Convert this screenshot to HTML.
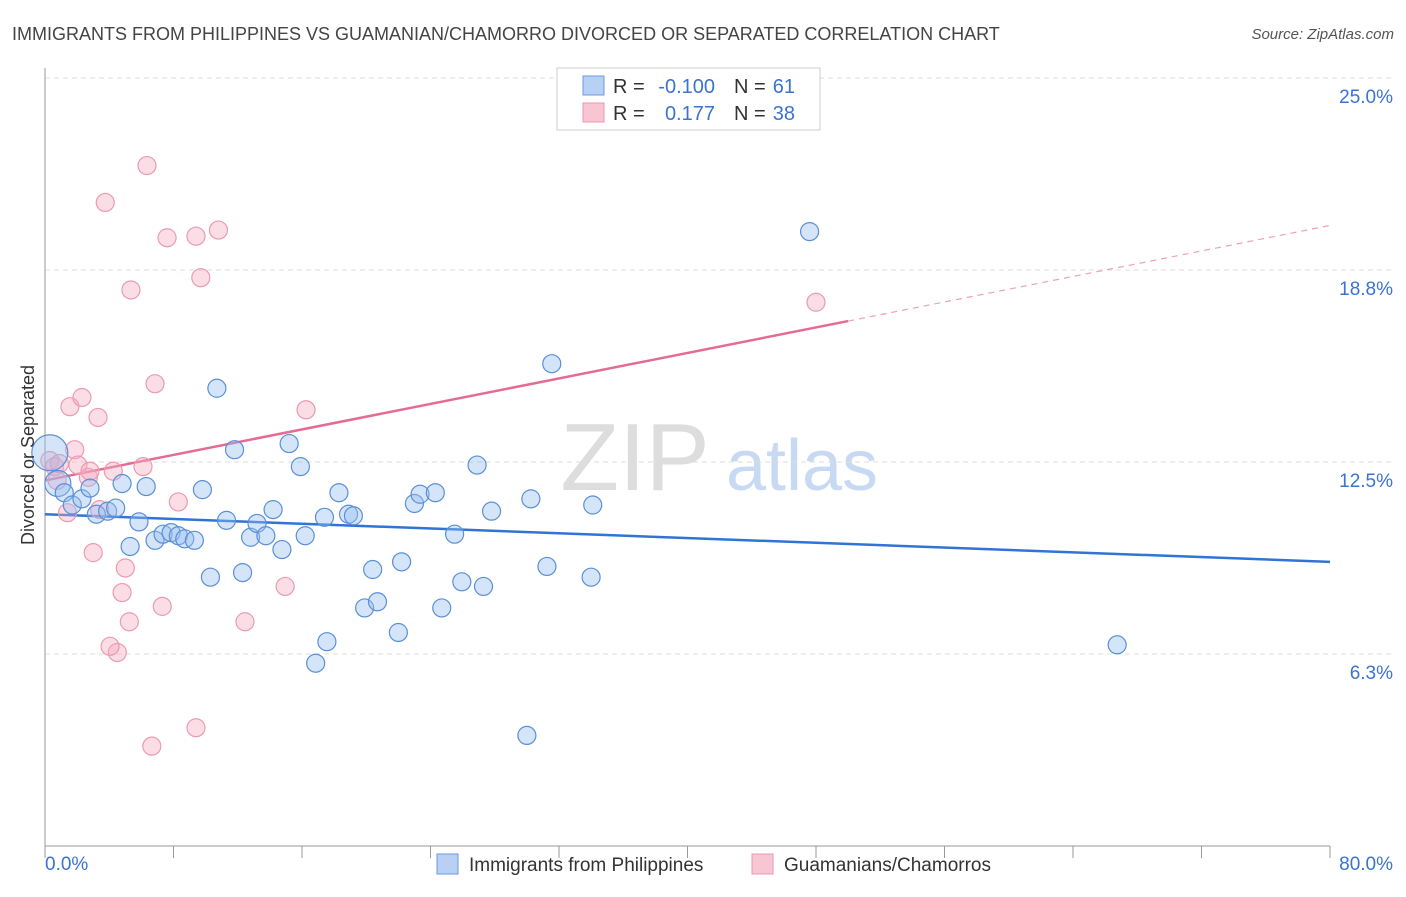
<!DOCTYPE html>
<html><head><meta charset="utf-8"><style>
body{margin:0;background:#fff;font-family:"Liberation Sans",sans-serif;}
svg text{font-family:"Liberation Sans",sans-serif;}
</style></head><body>
<svg id="chart" width="1406" height="892" xmlns="http://www.w3.org/2000/svg">
<text x="12" y="40" font-size="18" fill="#444">IMMIGRANTS FROM PHILIPPINES VS GUAMANIAN/CHAMORRO DIVORCED OR SEPARATED CORRELATION CHART</text>
<text x="1394" y="39" font-size="15" fill="#555" text-anchor="end" font-style="italic">Source: ZipAtlas.com</text>
<g>
<text x="635" y="490" font-size="96" fill="#ddd" text-anchor="middle" font-family="Liberation Serif,serif">ZIP</text>
<text x="802" y="490" font-size="72" fill="#c8daf3" text-anchor="middle">atlas</text>
</g>
<g id="grid"></g><g id="axes"></g><g id="trends"></g><g id="points"></g>
<text transform="translate(34,455) rotate(-90)" font-size="18" fill="#333" text-anchor="middle">Divorced or Separated</text>
<g>
<rect x="557" y="68" width="263" height="62" fill="#fff" stroke="#ccc"/>
<rect x="583" y="76" width="21" height="19" fill="#b7d0f3" stroke="#6a9ae0"/>
<rect x="583" y="103" width="21" height="19" fill="#f8c5d3" stroke="#ec97b0"/>
<text x="613" y="93" font-size="20" fill="#333">R =</text><text x="715" y="93" font-size="20" fill="#3b73d1" text-anchor="end">-0.100</text>
<text x="734" y="93" font-size="20" fill="#333">N =</text><text x="795" y="93" font-size="20" fill="#3b73d1" text-anchor="end">61</text>
<text x="613" y="120" font-size="20" fill="#333">R =</text><text x="715" y="120" font-size="20" fill="#3b73d1" text-anchor="end">0.177</text>
<text x="734" y="120" font-size="20" fill="#333">N =</text><text x="795" y="120" font-size="20" fill="#3b73d1" text-anchor="end">38</text>
</g>
<g>
<rect x="437" y="854" width="21" height="20" fill="#b7d0f3" stroke="#6a9ae0"/>
<text x="469" y="871" font-size="19" fill="#333">Immigrants from Philippines</text>
<rect x="752" y="854" width="21" height="20" fill="#f8c5d3" stroke="#ec97b0"/>
<text x="784" y="871" font-size="19" fill="#333">Guamanians/Chamorros</text>
</g>
</svg>
<script>
const blueX=[0.3,0.8,1.2,1.7,2.3,2.8,3.2,3.9,4.4,4.8,5.3,5.85,6.3,6.85,7.35,7.85,8.3,8.7,9.3,9.8,10.3,10.7,11.3,11.8,12.3,12.8,13.2,13.75,14.2,14.75,15.2,15.9,16.2,16.85,17.4,17.55,18.3,18.9,19.2,19.9,20.4,20.7,22.0,22.2,23.0,23.35,24.3,24.7,25.5,25.95,26.9,27.3,27.8,30.0,30.25,31.25,31.55,34.0,34.1,47.6,66.75];
const blueY=[12.8,11.8,11.5,11.1,11.3,11.65,10.8,10.9,11.0,11.8,9.75,10.55,11.7,9.95,10.15,10.2,10.1,10.0,9.95,11.6,8.75,14.9,10.6,12.9,8.9,10.05,10.5,10.1,10.95,9.65,13.1,12.35,10.1,5.95,10.7,6.65,11.5,10.8,10.75,7.75,9.0,7.95,6.95,9.25,11.15,11.45,11.5,7.75,10.15,8.6,12.4,8.45,10.9,3.6,11.3,9.1,15.7,8.75,11.1,20.0,6.55];
const blueR=[18,13,9,9,9,9,9,9,9,9,9,9,9,9,9,9,9,9,9,9,9,9,9,9,9,9,9,9,9,9,9,9,9,9,9,9,9,9,9,9,9,9,9,9,9,9,9,9,9,9,9,9,9,9,9,9,9,9,9,9,9];
const pinkX=[0.3,0.6,0.75,0.9,1.4,1.55,1.85,2.05,2.3,2.7,2.8,3.0,3.3,3.4,3.75,4.25,4.5,4.05,4.8,5.0,5.25,5.35,6.1,6.35,6.65,6.85,7.3,7.6,8.3,9.4,9.4,9.7,10.8,12.45,14.95,16.25,48.0];
const pinkY=[12.55,12.35,11.9,12.45,10.85,14.3,12.9,12.4,14.6,12.0,12.2,9.55,13.95,10.95,20.95,12.2,6.3,6.5,8.25,9.05,7.3,18.1,12.35,22.15,3.25,15.05,7.8,19.8,11.2,3.85,19.85,18.5,20.05,7.3,8.45,14.2,17.7];
const yTicks=[25.0,18.8,12.5,6.3];
const yTickPos=[25,18.75,12.5,6.25];
const xTickLabels=["0.0%","80.0%"];
const blueTrend=[10.8,9.25];
const pinkTrend=[11.9,20.2];
const pinkSolidEnd=50;
const NS="http://www.w3.org/2000/svg";
const X0=45,X1=1330,Y0=846,Y1=78;
const sx=v=>X0+(v/80)*(X1-X0);
const sy=v=>Y0-(v/25)*(Y0-Y1);
function mk(parent,tag,attrs){const e=document.createElementNS(NS,tag);for(const k in attrs)e.setAttribute(k,attrs[k]);document.getElementById(parent).appendChild(e);return e;}
yTickPos.forEach((v,i)=>{
 let l=mk('grid','line',{x1:X0,x2:1395,y1:sy(v),y2:sy(v),stroke:'#ddd','stroke-dasharray':'5,4'});
 
 
 let t=mk('grid','text',{x:1393,y:sy(v)+25,'font-size':19,fill:'#3b73d1','text-anchor':'end'});
 t.textContent=yTicks[i].toFixed(1)+'%';
 
 
});
let ya=mk('axes','line',{x1:X0,x2:X0,y1:68,y2:Y0,stroke:'#999'});


let xa=mk('axes','line',{x1:X0,x2:X1,y1:Y0,y2:Y0,stroke:'#999'});


for(let i=0;i<=10;i++){
 let t=mk('axes','line',{x1:sx(i*8),x2:sx(i*8),y1:Y0,y2:858,stroke:'#999'});
 
 
}
let xl0=mk('axes','text',{x:45,y:870,'font-size':19,fill:'#3b73d1'});xl0.textContent=xTickLabels[0];


let xl1=mk('axes','text',{x:1393,y:870,'font-size':19,fill:'#3b73d1','text-anchor':'end'});xl1.textContent=xTickLabels[1];


const pAt=x=>pinkTrend[0]+(pinkTrend[1]-pinkTrend[0])*x/80;
let bt=mk('trends','line',{x1:sx(0),y1:sy(blueTrend[0]),x2:sx(80),y2:sy(blueTrend[1]),stroke:'#2f74d6','stroke-width':2.5});


let pt=mk('trends','line',{x1:sx(0),y1:sy(pinkTrend[0]),x2:sx(pinkSolidEnd),y2:sy(pAt(pinkSolidEnd)),stroke:'#e56b94','stroke-width':2.5});


let pd=mk('trends','line',{x1:sx(pinkSolidEnd),y1:sy(pAt(pinkSolidEnd)),x2:sx(80),y2:sy(pinkTrend[1]),stroke:'#eea0b8','stroke-width':1.2,'stroke-dasharray':'6,5'});


pinkX.forEach((x,i)=>{
 let c=mk('points','circle',{cx:sx(x),cy:sy(pinkY[i]),r:9,fill:'rgba(245,170,192,0.4)',stroke:'#eb9ab3','stroke-width':1.2});
 
 
});
blueX.forEach((x,i)=>{
 let c=mk('points','circle',{cx:sx(x),cy:sy(blueY[i]),r:blueR[i],fill:'rgba(150,190,240,0.4)',stroke:'#5a8fd8','stroke-width':1.2});
 
 
});
</script>
</body></html>
